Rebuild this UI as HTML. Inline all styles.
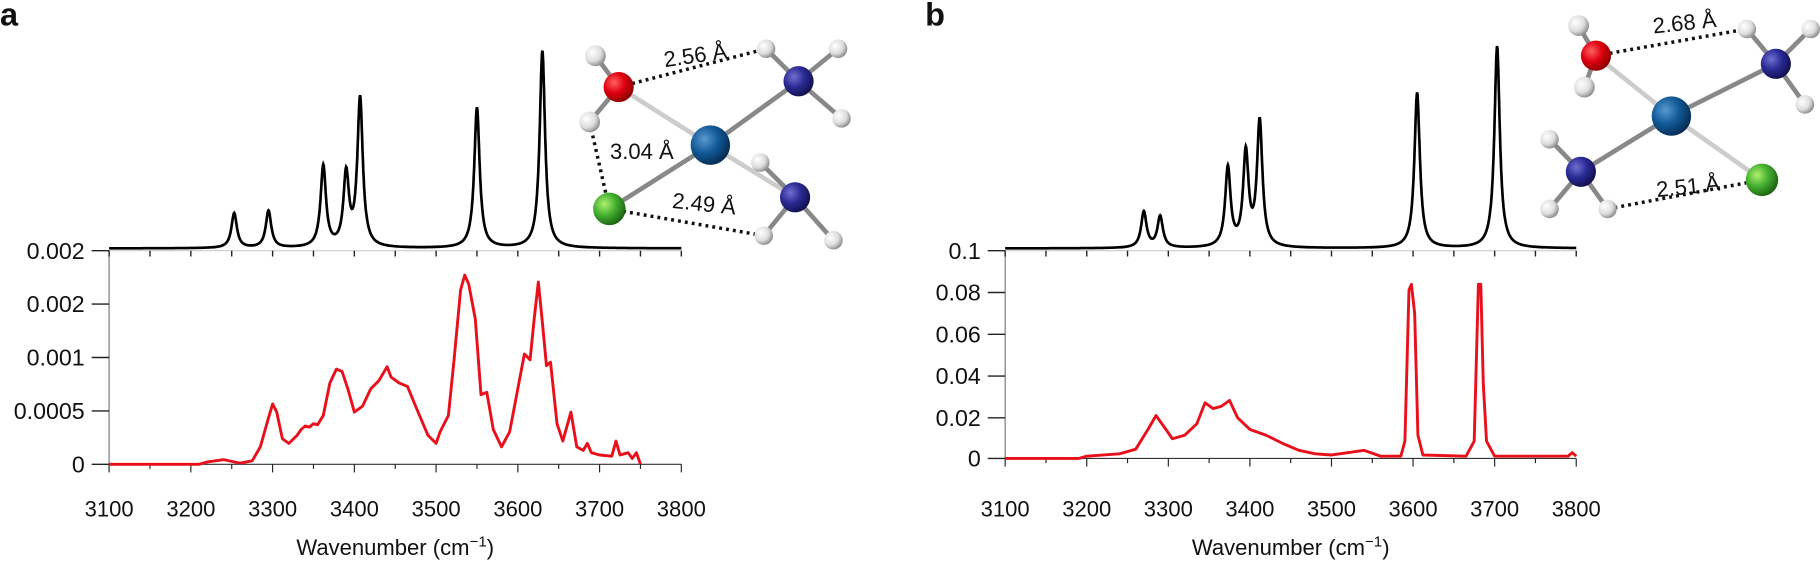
<!DOCTYPE html>
<html><head><meta charset="utf-8"><style>
html,body{margin:0;padding:0;background:#fff;width:1820px;height:567px;overflow:hidden}
svg{display:block}
text{font-family:"Liberation Sans",Arial,sans-serif;fill:#111}
</style></head><body>
<svg id="s" width="1820" height="567" viewBox="0 0 1820 567" xmlns="http://www.w3.org/2000/svg">
<defs>
<radialGradient id="gH" cx="35%" cy="35%" r="70%"><stop offset="0" stop-color="#fff"/><stop offset="0.6" stop-color="#ddd"/><stop offset="1" stop-color="#888"/></radialGradient>
<radialGradient id="gO" cx="35%" cy="35%" r="70%"><stop offset="0" stop-color="#ff6060"/><stop offset="0.5" stop-color="#e00010"/><stop offset="1" stop-color="#800"/></radialGradient>
<radialGradient id="gN" cx="35%" cy="35%" r="70%"><stop offset="0" stop-color="#7070d0"/><stop offset="0.5" stop-color="#2a2a95"/><stop offset="1" stop-color="#10104a"/></radialGradient>
<radialGradient id="gC" cx="35%" cy="35%" r="70%"><stop offset="0" stop-color="#5a9ad0"/><stop offset="0.5" stop-color="#125a98"/><stop offset="1" stop-color="#062a50"/></radialGradient>
<radialGradient id="gL" cx="35%" cy="35%" r="70%"><stop offset="0" stop-color="#b0f070"/><stop offset="0.5" stop-color="#44b030"/><stop offset="1" stop-color="#1a6010"/></radialGradient>
</defs>
<g id="root" transform="scale(1.1607)"></g>
</svg>
<script>
const NS="http://www.w3.org/2000/svg";
const root=document.getElementById('root');
function el(t,a,txt){const e=document.createElementNS(NS,t);for(const k in a)e.setAttribute(k,a[k]);if(txt!==undefined)e.textContent=txt;root.appendChild(e);return e;}
function panel(x0,x1,base,bottom,ticks,labels,letter,lx,black,red){
  const X=w=>x0+(w-3100)*(x1-x0)/700;
  el('text',{x:lx,y:22,'font-size':28,'font-weight':'bold'},letter);
  el('line',{x1:x0,y1:base,x2:x1,y2:base,stroke:'#ccc','stroke-width':1});
  el('line',{x1:x0,y1:base,x2:x0,y2:bottom,stroke:'#777','stroke-width':1});
  el('line',{x1:x0,y1:bottom,x2:x1,y2:bottom,stroke:'#333','stroke-width':1});
  for(let w=3100;w<=3800;w+=50){
    el('line',{x1:X(w),y1:base,x2:X(w),y2:base+5,stroke:'#222','stroke-width':1.2});
    el('line',{x1:X(w),y1:bottom,x2:X(w),y2:bottom+(w%100?4:7),stroke:'#222','stroke-width':1});
    if(w%100==0) el('text',{x:X(w),y:445,'font-size':19,'text-anchor':'middle'},String(w));
  }
  ticks.forEach((y,i)=>{el('line',{x1:x0-15,y1:y,x2:x0,y2:y,stroke:'#222','stroke-width':1.2});
    el('text',{x:x0-21,y:y+7,'font-size':20,'text-anchor':'end'},labels[i]);});
  const t=el('text',{x:(x0+x1)/2,y:478,'font-size':19,'text-anchor':'middle'},'Wavenumber (cm');
  const ts=document.createElementNS(NS,'tspan');ts.setAttribute('dy','-7');ts.setAttribute('font-size','13');ts.textContent='\u22121';t.appendChild(ts);
  const ts2=document.createElementNS(NS,'tspan');ts2.setAttribute('dy','7');ts2.textContent=')';t.appendChild(ts2);
  let d='';for(let w=3100;w<=3800;w+=0.5){let v=0;black.forEach(p=>{const g=p[2]||4;v+=p[1]*g*g/((w-p[0])**2+g*g);});d+=(d?'L':'M')+X(w).toFixed(1)+','+(base-2-v).toFixed(1);}
  el('path',{d:d,fill:'none',stroke:'#000','stroke-width':2.3});
  let r='';red.forEach(p=>{r+=(r?'L':'M')+X(p[0]).toFixed(1)+','+p[1];});
  el('path',{d:r,fill:'none',stroke:'#e8101a','stroke-width':2.5,'stroke-linejoin':'round'});
}
panel(94,587,216,400,[216,262,308,354,400],['0.002','0.002','0.001','0.0005','0'],'a',0,
 [[3253,30],[3295,32],[3362,70],[3390,62],[3407,128],[3550,121],[3630,170]],
 [[3100,400],[3210,400],[3220,398],[3240,396],[3260,399],[3275,397],[3285,385],[3295,360],[3300,348],[3305,355],[3312,378],[3320,382],[3330,375],[3335,370],[3340,367],[3345,368],[3350,365],[3355,366],[3362,358],[3370,330],[3378,318],[3385,320],[3392,335],[3400,355],[3410,350],[3420,335],[3430,328],[3440,316],[3445,325],[3455,330],[3465,333],[3475,350],[3490,375],[3500,382],[3505,372],[3515,358],[3522,310],[3530,250],[3535,237],[3540,245],[3548,275],[3555,340],[3562,338],[3570,370],[3580,385],[3590,372],[3600,335],[3608,305],[3615,310],[3620,275],[3625,243],[3630,278],[3635,315],[3640,312],[3648,365],[3655,380],[3665,355],[3672,385],[3680,388],[3685,382],[3690,390],[3700,392],[3715,393],[3720,380],[3725,392],[3735,390],[3740,395],[3745,390],[3750,400]]);
panel(866,1358,216,395,[216,252,288,324,360,395],['0.1','0.08','0.06','0.04','0.02','0'],'b',797,
 [[3270,31],[3290,27],[3373,68],[3395,80],[3412,108],[3605,134],[3703,174]],
 [[3100,395],[3190,395],[3200,393],[3240,391],[3260,387],[3275,370],[3285,358],[3295,368],[3305,378],[3320,375],[3335,365],[3345,347],[3355,352],[3365,350],[3375,345],[3385,360],[3400,370],[3420,375],[3440,382],[3460,388],[3480,391],[3500,392],[3520,390],[3540,388],[3560,393],[3585,393],[3590,380],[3595,250],[3598,245],[3602,270],[3606,375],[3612,392],[3665,393],[3675,380],[3680,245],[3683,245],[3686,330],[3690,380],[3700,393],[3790,393],[3795,390],[3800,393]]);
function bond(a,b,c){el('line',{x1:a[0],y1:a[1],x2:b[0],y2:b[1],stroke:c||'#888','stroke-width':4});}
function dot(a,b){el('line',{x1:a[0],y1:a[1],x2:b[0],y2:b[1],stroke:'#111','stroke-width':3,'stroke-dasharray':'2.5,3.5'});}
function atom(p,r,g){el('circle',{cx:p[0],cy:p[1],r:r,fill:'url(#'+g+')'});}
function lbl(x,y,s,rot){const t=el('text',{x:x,y:y,'font-size':19,'text-anchor':'middle'},s);if(rot)t.setAttribute('transform',`rotate(${rot} ${x} ${y})`);}
{const O=[533,75],H1=[513,48],H2=[508,105],Co=[612,125],N1=[688,70],N2=[685,170],Cl=[525,180],
 h11=[660,42],h12=[722,42],h13=[725,102],h21=[655,140],h22=[718,207],h23=[658,203];
 dot(O,h11);dot(H2,Cl);dot(Cl,h23);
 bond(O,H1);bond(O,H2);bond(O,Co,'#ccc');bond(Co,N2,'#ccc');bond(Co,N1);bond(Co,Cl);
 bond(N1,h11);bond(N1,h12);bond(N1,h13);bond(N2,h21);bond(N2,h22);bond(N2,h23);
 atom(H1,9,'gH');atom(H2,9,'gH');atom(O,13,'gO');atom(h11,8,'gH');atom(h12,8,'gH');atom(h13,8,'gH');
 atom(N1,13,'gN');atom(h21,8,'gH');atom(N2,13,'gN');atom(h22,8,'gH');atom(h23,8,'gH');atom(Co,17,'gC');atom(Cl,14,'gL');
 lbl(600,54,'2.56 Å',-8);lbl(553,137,'3.04 Å');lbl(606,182,'2.49 Å',6);}
{const O=[1375,48],H1=[1360,22],H2=[1365,75],Co=[1440,100],N1=[1530,55],N2=[1362,148],Cl=[1518,155],
 h11=[1505,25],h12=[1560,25],h13=[1555,90],h21=[1335,120],h22=[1335,180],h23=[1385,180];
 dot(O,h11);dot(h23,Cl);
 bond(O,H1);bond(O,H2);bond(O,Co,'#ccc');bond(Co,Cl,'#ccc');bond(Co,N1);bond(Co,N2);
 bond(N1,h11);bond(N1,h12);bond(N1,h13);bond(N2,h21);bond(N2,h22);bond(N2,h23);
 atom(H1,9,'gH');atom(H2,9,'gH');atom(O,13,'gO');atom(h11,8,'gH');atom(h12,8,'gH');atom(h13,8,'gH');
 atom(N1,13,'gN');atom(h21,8,'gH');atom(h22,8,'gH');atom(h23,8,'gH');atom(N2,13,'gN');atom(Co,17,'gC');atom(Cl,14,'gL');
 lbl(1452,26,'2.68 Å',-6);lbl(1455,167,'2.51 Å',-6);}
</script>
</body></html>
